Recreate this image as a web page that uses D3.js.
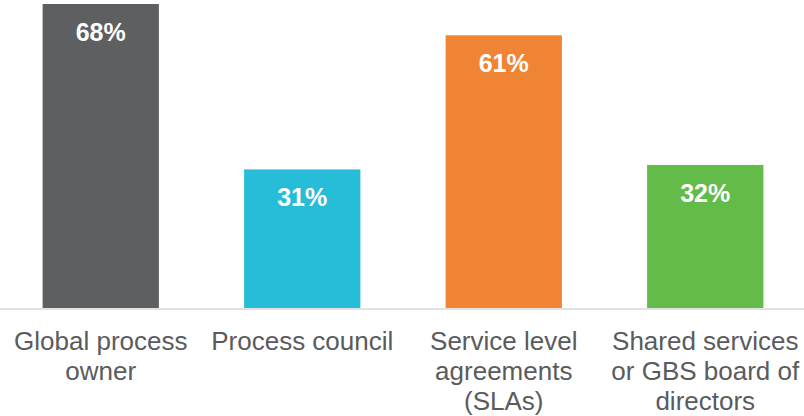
<!DOCTYPE html>
<html>
<head>
<meta charset="utf-8">
<script src="https://cdn.jsdelivr.net/npm/d3@7"></script>
<style>
  html, body { margin: 0; padding: 0; background: #fff; }
  svg { display: block; }
  text { font-family: "Liberation Sans", Arial, Helvetica, sans-serif; }
</style>
</head>
<body>
<svg id="chart" width="804" height="416"></svg>
<script>
// Category names, values (%) and the wrapped tick label lines
const categories = ["Global process owner", "Process council", "Service level agreements (SLAs)", "Shared services or GBS board of directors"];
const values = [68, 31, 61, 32];
const tickLines = [
  ["Global process", "owner"],
  ["Process council"],
  ["Service level", "agreements", "(SLAs)"],
  ["Shared services", "or GBS board of", "directors"]
];
const colors = ["#5e5f61", "#27bcd8", "#ef8534", "#63bb4a"];

const width = 804, baseY = 308, topY = 4;
const svg = d3.select("#chart");

const x = d3.scaleBand()
  .domain(categories)
  .range([0, 806])
  .paddingInner(0.423)
  .paddingOuter(0.2115);

const y = d3.scaleLinear()
  .domain([0, d3.max(values)])
  .range([baseY, topY]);

const data = categories.map((c, i) => ({ cat: c, value: values[i], color: colors[i], lines: tickLines[i] }));

// Bars
svg.append("g").selectAll("rect")
  .data(data)
  .join("rect")
  .attr("x", d => x(d.cat))
  .attr("y", d => y(d.value))
  .attr("width", x.bandwidth())
  .attr("height", d => y(0) - y(d.value))
  .attr("fill", d => d.color);

// Value labels inside bar tops
svg.append("g").selectAll("text")
  .data(data)
  .join("text")
  .attr("x", d => x(d.cat) + x.bandwidth() / 2)
  .attr("y", d => y(d.value) + 37)
  .attr("text-anchor", "middle")
  .attr("fill", "#ffffff")
  .style("font-weight", "bold")
  .style("font-size", "25px")
  .text(d => d.value + "%");

// Category axis
const axis = svg.append("g")
  .attr("transform", `translate(0,${baseY})`)
  .call(d3.axisBottom(x).tickSize(0).tickFormat(""));
axis.select(".domain").remove();
axis.append("line")
  .attr("x1", 0).attr("x2", width)
  .attr("y1", 1).attr("y2", 1)
  .attr("stroke", "#d9d9d9")
  .attr("stroke-width", 1.6);

axis.selectAll(".tick text").remove();
axis.selectAll(".tick").each(function(c, i) {
  const t = d3.select(this).append("text")
    .attr("text-anchor", "middle")
    .attr("fill", "#5a5b5d")
    .style("font-size", "26px");
  tickLines[i].forEach((ln, k) => {
    t.append("tspan").attr("x", 0).attr("y", 42 + k * 30).text(ln);
  });
});
</script>
</body>
</html>
